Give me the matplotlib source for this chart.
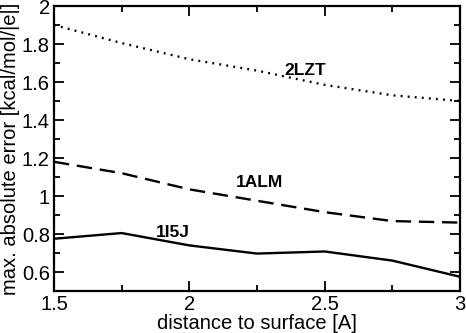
import numpy as np
import matplotlib.pyplot as plt
from matplotlib.ticker import MultipleLocator

plt.rcParams['font.family'] = ['Liberation Sans', 'DejaVu Sans']

dist = [1.5, 1.75, 2.0, 2.25, 2.5, 2.75, 3.0]
err_2lzt = [1.90, 1.805, 1.72, 1.66, 1.585, 1.53, 1.50]
err_1alm = [1.18, 1.12, 1.035, 0.975, 0.915, 0.868, 0.86]
err_1i5j = [0.775, 0.805, 0.74, 0.697, 0.708, 0.66, 0.575]

fig = plt.figure(figsize=(4.66, 3.33), dpi=100)
ax = fig.add_axes([54/466, 1 - 291/333, 406/466, 285/333])

ax.plot(dist, err_2lzt, color="black", lw=1.7, linestyle=(0, (0.8, 2.2)))
ax.plot(dist, err_1alm, color="black", lw=1.7, linestyle=(0, (6.5, 3.3)))
ax.plot(dist, err_1i5j, color="black", lw=1.7, linestyle="-")

ax.text(2.43, 1.66, "2LZT", fontsize=12.5, fontweight="bold", ha="center", va="center")
ax.text(2.26, 1.07, "1ALM", fontsize=12.5, fontweight="bold", ha="center", va="center")
ax.text(1.94, 0.81, "1I5J", fontsize=12.5, fontweight="bold", ha="center", va="center")

ax.set_xlim(1.5, 3)
ax.set_ylim(0.5, 2)
ax.xaxis.set_minor_locator(MultipleLocator(0.25))
ax.yaxis.set_minor_locator(MultipleLocator(0.1))
ax.set_xticks([1.5, 2, 2.5, 3])
ax.set_xticklabels(["1.5", "2", "2.5", "3"])
ax.set_yticks([0.6, 0.8, 1.0, 1.2, 1.4, 1.6, 1.8, 2.0])
ax.set_yticklabels(["0.6", "0.8", "1", "1.2", "1.4", "1.6", "1.8", "2"])
ax.tick_params(which="both", direction="in", top=True, right=True, labelsize=14.5, width=1.3)
ax.tick_params(which="major", length=7, pad=3)
ax.tick_params(which="minor", length=4)
for s in ax.spines.values():
    s.set_linewidth(1.6)

ax.set_xlabel("distance to surface [A]", fontsize=14.5, labelpad=0)
ax.set_ylabel("max. absolute error [kcal/mol/|e|]", fontsize=14.5, labelpad=1)

plt.savefig("out.png", dpi=100)
